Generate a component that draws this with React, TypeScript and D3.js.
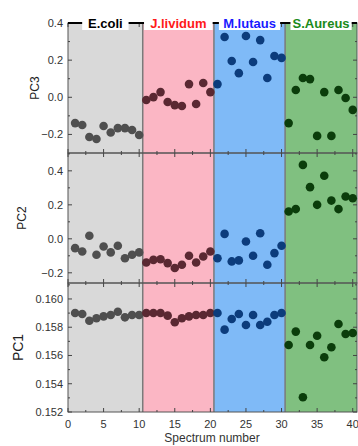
import React from "react";
import * as d3 from "d3";

// Spectrum indices 1..40, ten spectra per species
const spectra = d3.range(1, 41);
const species = ["E.coli", "J.lividum", "M.lutaus", "S.Aureus"];
const regionFill = ["#d9d9d9", "#fbb6c4", "#7fbaf7", "#80c080"];
const labelColor = ["#000000", "#ff1a1a", "#1a1aff", "#1a8a1a"];
const pointColor = ["#4f4f4f", "#5a2832", "#0c3c7c", "#0b3d0b"];
const regionBreaks = [0, 10.5, 20.5, 30.5, 40.6];

const pc3 = [
  -0.139, -0.149, -0.214, -0.225, -0.155, -0.19, -0.166, -0.166, -0.176, -0.203,
  -0.015, 0.001, 0.028, -0.025, -0.042, -0.047, 0.071, -0.036, 0.077, 0.028,
  0.071, 0.325, 0.195, 0.13, 0.33, 0.19, 0.308, 0.104, 0.222, 0.212,
  -0.139, 0.039, 0.104, 0.098, -0.208, 0.028, -0.208, 0.039, -0.004, -0.068,
];
const pc2 = [
  -0.055, -0.075, 0.018, -0.094, -0.045, -0.08, -0.041, -0.114, -0.094, -0.08,
  -0.139, -0.124, -0.12, -0.143, -0.172, -0.153, -0.1, -0.139, -0.104, -0.075,
  -0.114, 0.029, -0.133, -0.127, -0.016, -0.1, 0.033, -0.153, -0.084, -0.041,
  0.161, 0.175, 0.435, 0.304, 0.2, 0.371, 0.225, 0.175, 0.249, 0.239,
];
const pc1 = [
  0.15901, 0.15894, 0.15846, 0.15863, 0.15877, 0.15887, 0.1591, 0.1587, 0.15887, 0.15887,
  0.15901, 0.15901, 0.15901, 0.15882, 0.15835, 0.15863, 0.15877, 0.15887, 0.15887, 0.15901,
  0.15901, 0.15783, 0.15858, 0.15894, 0.15816, 0.15887, 0.15816, 0.15839, 0.15887, 0.15901,
  0.15674, 0.15769, 0.15304, 0.15674, 0.1574, 0.15587, 0.15658, 0.15823, 0.15752, 0.15759,
];

const xTicks = [0, 5, 10, 15, 20, 25, 30, 35, 40];
const xMinor = [2.5, 7.5, 12.5, 17.5, 22.5, 27.5, 32.5, 37.5];

type Panel = {
  name: string;
  values: number[];
  domain: [number, number];
  top: number;
  bottom: number;
  ticks: number[];
  minor: number[];
  fmt: (v: number) => string;
  labelX: number;
  labelSize: number;
};

const LEFT = 68;
const RIGHT = 357;

const panels: Panel[] = [
  {
    name: "PC3", values: pc3, domain: [-0.3, 0.4], top: 23, bottom: 153,
    ticks: [-0.2, 0, 0.2, 0.4], minor: [-0.1, 0.1, 0.3],
    fmt: d3.format(".1f"), labelX: 35, labelSize: 12,
  },
  {
    name: "PC2", values: pc2, domain: [-0.26, 0.505], top: 153, bottom: 283,
    ticks: [-0.2, 0, 0.2, 0.4], minor: [-0.1, 0.1, 0.3, 0.5],
    fmt: d3.format(".1f"), labelX: 22, labelSize: 12,
  },
  {
    name: "PC1", values: pc1, domain: [0.152, 0.16113], top: 283, bottom: 412,
    ticks: [0.152, 0.154, 0.156, 0.158, 0.16], minor: [0.153, 0.155, 0.157, 0.159, 0.161],
    fmt: d3.format(".3f"), labelX: 18, labelSize: 14,
  },
];

const x = d3.scaleLinear().domain([0, 40.6]).range([LEFT, RIGHT]);
const TOP = 23;
const BOTTOM = 412;

export default function App() {
  const font = "Arial, 'Liberation Sans', sans-serif";
  return (
    <svg width={358} height={446} style={{ position: "absolute", left: 0, top: 0 }} fontFamily={font}>
      {/* species background bands */}
      {species.map((s, i) => (
        <rect
          key={s}
          x={x(regionBreaks[i])}
          y={TOP}
          width={x(regionBreaks[i + 1]) - x(regionBreaks[i])}
          height={BOTTOM - TOP}
          fill={regionFill[i]}
        />
      ))}
      {[1, 2, 3].map((i) => (
        <line key={i} x1={x(regionBreaks[i])} x2={x(regionBreaks[i])} y1={TOP} y2={BOTTOM} stroke="#7a7a7a" strokeWidth={1.5} />
      ))}

      {panels.map((p) => {
        const y = d3.scaleLinear().domain(p.domain).range([p.bottom, p.top]);
        return (
          <g key={p.name}>
            {/* frame */}
            <rect x={LEFT} y={p.top} width={RIGHT - LEFT} height={p.bottom - p.top} fill="none" stroke="#555" strokeWidth={1} />
            {/* y ticks, inward on both sides */}
            {p.ticks.map((t) => (
              <g key={t}>
                <line x1={LEFT} x2={LEFT + 4} y1={y(t)} y2={y(t)} stroke="#444" />
                <line x1={RIGHT} x2={RIGHT - 4} y1={y(t)} y2={y(t)} stroke="#444" />
                <text x={LEFT - 5} y={y(t)} dy="0.35em" textAnchor="end" fontSize={11} fill="#333">
                  {p.fmt(t)}
                </text>
              </g>
            ))}
            {p.minor.filter((t) => y(t) > p.top && y(t) < p.bottom).map((t) => (
              <g key={"m" + t}>
                <line x1={LEFT} x2={LEFT + 2} y1={y(t)} y2={y(t)} stroke="#444" />
                <line x1={RIGHT} x2={RIGHT - 2} y1={y(t)} y2={y(t)} stroke="#444" />
              </g>
            ))}
            {/* x ticks on top and bottom edges */}
            {xTicks.map((t) => (
              <g key={"x" + t}>
                <line x1={x(t)} x2={x(t)} y1={p.bottom} y2={p.bottom - 4} stroke="#444" />
                <line x1={x(t)} x2={x(t)} y1={p.top} y2={p.top + 4} stroke="#444" />
              </g>
            ))}
            {xMinor.map((t) => (
              <g key={"xm" + t}>
                <line x1={x(t)} x2={x(t)} y1={p.bottom} y2={p.bottom - 2} stroke="#444" />
                <line x1={x(t)} x2={x(t)} y1={p.top} y2={p.top + 2} stroke="#444" />
              </g>
            ))}
            {/* points */}
            {p.values.map((v, i) => (
              <circle key={i} cx={x(spectra[i])} cy={y(v)} r={4.3} fill={pointColor[Math.floor(i / 10)]} />
            ))}
            <text
              transform={`translate(${p.labelX},${(p.top + p.bottom) / 2}) rotate(-90)`}
              textAnchor="middle"
              dy="0.35em"
              fontSize={p.labelSize}
              fill="#222"
            >
              {p.name}
            </text>
          </g>
        );
      })}

      {/* species header line with labels */}
      <line x1={LEFT} x2={RIGHT} y1={TOP} y2={TOP} stroke="#000" strokeWidth={2} />
      {species.map((s, i) => {
        const cx = (x(regionBreaks[i]) + x(regionBreaks[i + 1])) / 2;
        const w = s.length * 7.4 + 2;
        return (
          <g key={"lab" + s}>
            <rect x={cx - w / 2} y={TOP - 8} width={w} height={15} fill="#fff" />
            <text x={cx} y={TOP} dy="0.35em" textAnchor="middle" fontWeight="bold" fontSize={13} fill={labelColor[i]}>
              {s}
            </text>
          </g>
        );
      })}

      {/* x axis labels */}
      {xTicks.map((t) => (
        <text key={"xl" + t} x={x(t)} y={424} dy="0.35em" textAnchor="middle" fontSize={11} fill="#333">
          {t}
        </text>
      ))}
      <text x={212} y={438} dy="0.35em" textAnchor="middle" fontSize={12} fill="#333">
        Spectrum number
      </text>
    </svg>
  );
}
